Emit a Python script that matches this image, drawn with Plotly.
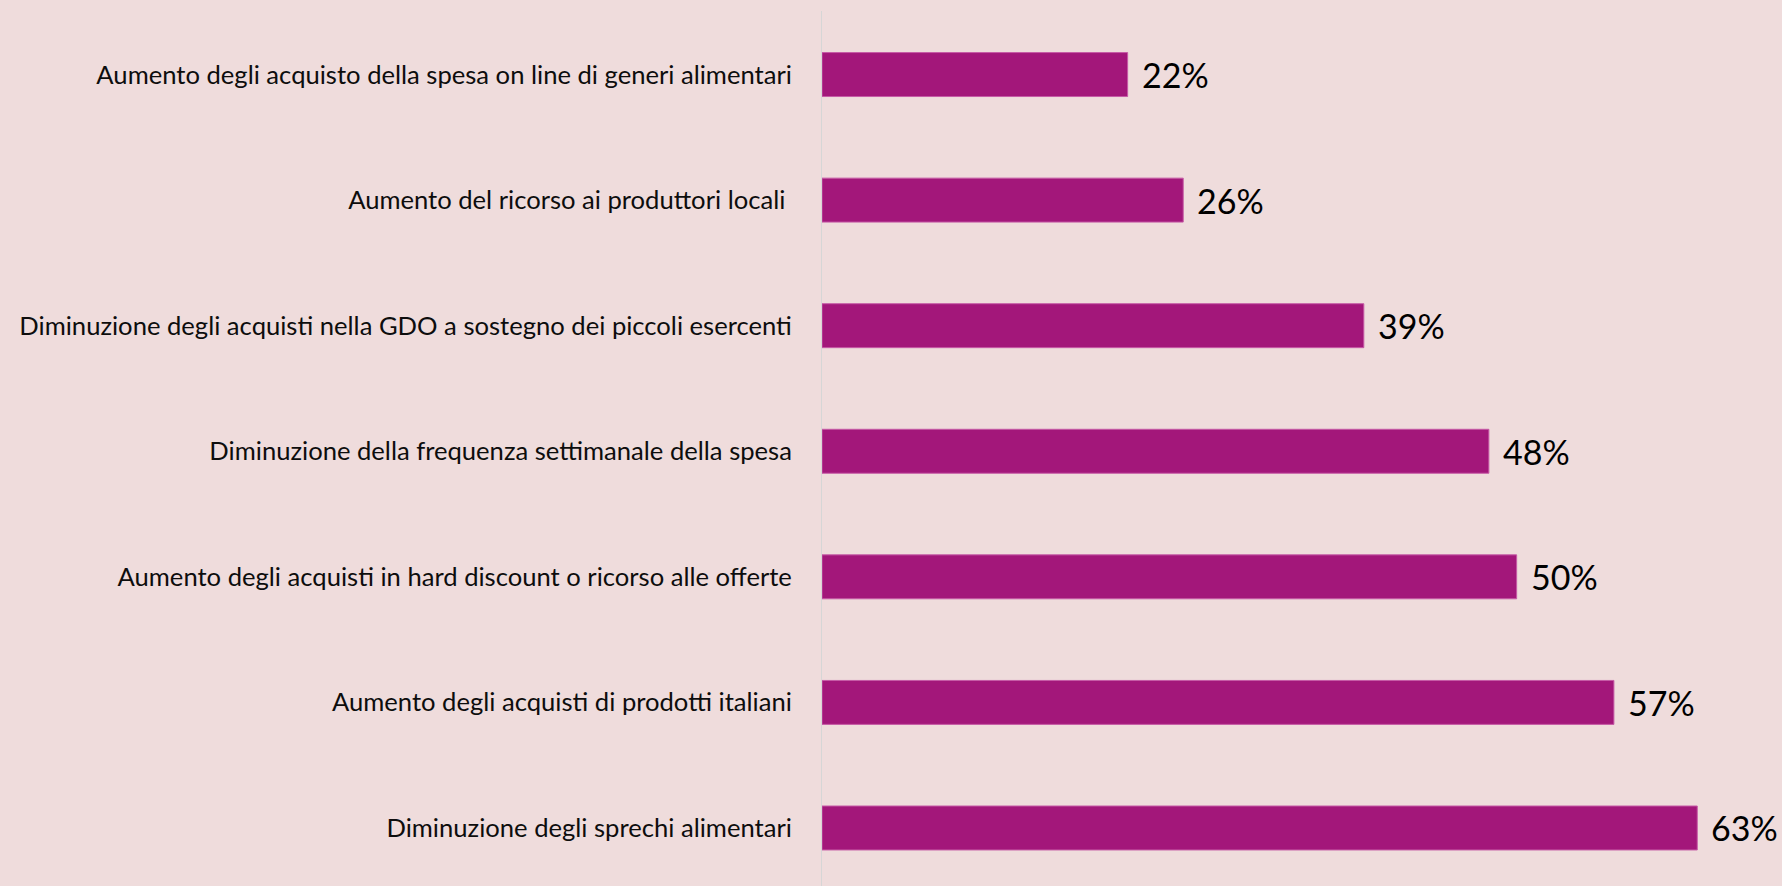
import plotly.graph_objects as go

categories = [
    "Aumento degli acquisto della spesa on line di generi alimentari",
    "Aumento del ricorso ai produttori locali ",
    "Diminuzione degli acquisti nella GDO a sostegno dei piccoli esercenti",
    "Diminuzione della frequenza settimanale della spesa",
    "Aumento degli acquisti in hard discount o ricorso alle offerte",
    "Aumento degli acquisti di prodotti italiani",
    "Diminuzione degli sprechi alimentari",
]
values = [22, 26, 39, 48, 50, 57, 63]

BG = "#EFDCDC"
BAR = "#A3177A"

fig = go.Figure()
fig.add_trace(go.Bar(
    x=values, y=categories, orientation="h",
    marker=dict(color=BAR, line=dict(color="#C65AA6", width=1)),
    hoverinfo="skip",
))

for v, c in zip(values, categories):
    fig.add_annotation(x=v, y=c, text=f"{v}%", xanchor="left", yanchor="middle",
                       xshift=12, showarrow=False,
                       font=dict(family="Lato", size=34, color="#000000"))

fig.update_layout(
    width=1782, height=886,
    paper_bgcolor=BG, plot_bgcolor=BG,
    margin=dict(l=822, r=0, t=11, b=0),
    bargap=0.65,
    showlegend=False,
    font=dict(family="Lato", size=26, color="#0D0D0D"),
)
fig.update_xaxes(range=[0, 69.1], visible=False, showgrid=False, zeroline=False)
fig.update_yaxes(
    type="category",
    range=[6.462, -0.506],
    showline=True, linecolor="#D6D6D6", linewidth=1,
    showgrid=False, zeroline=False,
    ticks="", ticklabelstandoff=24,
    tickfont=dict(family="Lato", size=25.6, color="#0D0D0D"),
)

fig.write_html(
    "out.html",
    config={"displayModeBar": False},
    post_script="document.body.style.margin='0';document.body.style.background='%s';" % BG,
)
